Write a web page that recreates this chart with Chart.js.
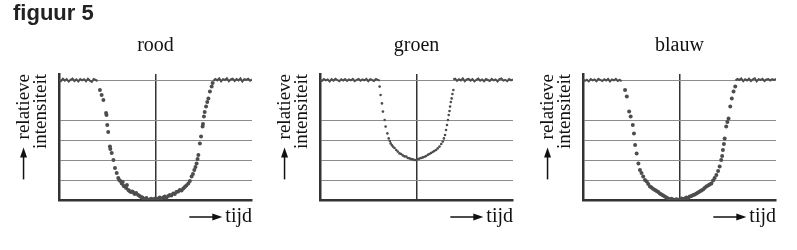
<!DOCTYPE html>
<html>
<head>
<meta charset="utf-8">
<script src="https://cdn.jsdelivr.net/npm/chart.js@4"></script>
<style>
  body { margin: 0; background: #fff; width: 797px; height: 250px; position: relative; overflow: hidden; }
  .panel { position: absolute; top: 0; width: 262px; height: 250px; }
  #heading { position: absolute; left: 13px; top: 0px; font: bold 22px "Liberation Sans", Arial, sans-serif; color: #222; z-index: 2; }
</style>
</head>
<body>
<div id="heading">figuur 5</div>
<div class="panel" style="left:0px"><canvas id="rood" width="262" height="250"></canvas></div>
<div class="panel" style="left:261px"><canvas id="groen" width="262" height="250"></canvas></div>
<div class="panel" style="left:524px"><canvas id="blauw" width="262" height="250"></canvas></div>
<script>
// titles and axis texts
var panelTitles = ['rood', 'groen', 'blauw'];
var yLabel = ['relatieve', 'intensiteit'];
var xLabel = 'tijd';
// horizontal grid positions (no labels shown)
var yGridTicks = [0, 1, 2, 3, 4, 6];
var xGridTicks = [50];

// flat (noisy) parts: first x and the measured values, one per time unit
var redFlatLeftX0 = 0;
var redFlatLeft = [6.02,5.94,6.06,5.97,6.04,5.92,6.01,6.07,5.95,6.03,5.93,6.05,5.98,6.04,5.94,6.06,5.97,5.91,6.05,6.0,5.95];
var redFlatRightX0 = 80;
var redFlatRight = [5.96,6.05,5.98,6.08,5.93,6.04,6.0,6.09,5.94,6.03,6.07,5.95,6.05,5.98,6.08,5.92,6.04,6.01,6.06,5.96,6.03];

var greenFlatLeftX0 = 0;
var greenFlatLeft = [6.01,5.95,6.05,5.98,6.03,5.93,6.04,5.97,6.06,6.0,5.94,6.04,5.97,6.05,5.95,6.03,5.98,6.06,5.94,6.01,6.05,5.96,6.03,5.98,6.06,5.94,6.04,6.0,5.95,6.05,6.01,5.97];
var greenFlatRightX0 = 69;
var greenFlatRight = [6.03,6.07,5.96,6.04,5.98,6.08,5.94,6.03,6.06,5.97,6.04,5.93,6.01,6.07,5.97,6.03,5.94,6.05,6.0,5.95,6.06,5.98,6.03,5.93,6.04,6.08,5.97,6.01,5.94,6.05,5.98,6.03];

var blueFlatLeftX0 = 0;
var blueFlatLeft = [6.04,5.96,6.01,5.93,6.05,5.98,6.03,5.94,6.06,6.0,5.95,6.04,5.97,6.05,5.93,6.03,5.98,6.06,5.95,6.01,5.94];
var blueFlatRightX0 = 79;
var blueFlatRight = [5.97,6.05,6.0,6.08,5.94,6.04,5.98,6.07,5.95,6.03,6.08,5.93,6.04,6.0,6.06,5.95,6.03,6.05,5.97,6.04,6.0,6.06];

// dip points [tijd, intensiteit]
var redDip = [[21.2,5.5],[22.1,5.25],[23.0,5.0],[24.4,4.35],[24.6,4.25],[25.0,3.75],[25.5,3.4],[26.4,2.67],[26.6,2.55],[27.3,2.35],[28.2,2.0],[29.0,1.6],[29.9,1.35],[30.7,1.1],[31.2,1.0],[31.8,0.95],[32.5,0.83],[33.0,0.9],[33.5,0.7],[34.2,0.67],[34.8,0.6],[35.2,0.75],[35.9,0.5],[36.5,0.45],[37.2,0.4],[38.0,0.42],[38.5,0.37],[39.2,0.3],[40.0,0.35],[41.0,0.25],[41.8,0.2],[42.5,0.15],[43.2,0.12],[43.7,0.08],[44.5,0.05],[45.3,0.1],[46.3,0.0],[47.0,0.02],[47.8,0.06],[48.5,0.0],[49.0,0.03],[49.8,0.08],[50.5,0.04],[51.4,0.08],[52.2,0.12],[53.0,0.06],[54.0,0.13],[54.8,0.18],[55.6,0.1],[56.6,0.2],[57.4,0.25],[58.2,0.22],[59.2,0.33],[60.0,0.3],[60.8,0.4],[61.8,0.42],[62.6,0.5],[63.5,0.48],[64.4,0.58],[65.2,0.65],[66.0,0.72],[67.0,0.83],[67.8,0.95],[68.7,1.17],[69.4,1.3],[70.1,1.5],[70.7,1.65],[71.3,1.83],[71.8,2.05],[72.2,2.25],[73.0,2.83],[73.6,3.17],[74.4,3.67],[74.6,3.8],[75.1,4.17],[75.5,4.4],[76.2,4.67],[76.8,4.9],[77.4,5.08],[78.2,5.42],[79.1,5.67],[79.6,5.85]];

var greenDip = [[30.9,5.67],[31.4,5.25],[32.1,4.83],[32.6,4.42],[33.5,4.0],[34.0,3.67],[34.9,3.33],[35.6,3.08],[36.2,2.95],[36.6,2.83],[37.2,2.75],[37.8,2.67],[38.6,2.6],[39.5,2.5],[40.3,2.42],[41.2,2.33],[42.0,2.3],[42.9,2.23],[43.8,2.18],[44.7,2.17],[45.5,2.1],[46.4,2.08],[47.2,2.05],[48.1,2.03],[49.0,2.0],[49.8,2.0],[50.6,2.04],[51.5,2.07],[52.4,2.1],[53.3,2.13],[54.2,2.16],[55.0,2.2],[55.9,2.26],[56.7,2.3],[57.5,2.35],[58.4,2.4],[59.2,2.45],[60.1,2.5],[61.0,2.58],[61.9,2.67],[62.8,2.8],[63.6,2.92],[64.2,3.08],[64.8,3.25],[65.3,3.5],[65.8,3.75],[66.3,4.0],[66.7,4.25],[67.1,4.45],[67.4,4.67],[67.8,4.9],[68.2,5.08],[68.6,5.3],[69.1,5.5]];

var blueDip = [[21.8,5.5],[22.7,5.17],[23.9,4.42],[24.7,4.17],[25.8,3.75],[26.4,3.33],[27.0,2.75],[27.8,2.33],[28.7,1.83],[29.5,1.5],[30.3,1.35],[31.2,1.17],[32.1,1.0],[33.0,0.92],[33.8,0.8],[34.7,0.67],[35.5,0.62],[36.4,0.55],[37.3,0.5],[38.1,0.45],[39.0,0.4],[39.8,0.33],[40.7,0.28],[41.5,0.22],[42.4,0.17],[43.2,0.12],[44.1,0.08],[45.0,0.03],[45.8,0.06],[46.7,0.02],[47.6,0.0],[48.4,0.04],[49.3,0.01],[50.2,0.03],[51.0,0.07],[51.9,0.04],[52.7,0.08],[53.6,0.12],[54.5,0.1],[55.3,0.17],[56.2,0.2],[57.1,0.25],[57.9,0.28],[58.8,0.33],[59.6,0.38],[60.5,0.42],[61.3,0.47],[62.2,0.52],[63.0,0.6],[63.9,0.67],[64.8,0.72],[65.6,0.78],[66.5,0.83],[67.4,0.98],[68.2,1.1],[69.1,1.25],[70.0,1.45],[70.8,1.67],[71.6,2.0],[72.1,2.2],[72.5,2.5],[73.0,2.8],[73.4,3.08],[74.2,3.67],[74.8,3.9],[75.4,4.08],[76.3,4.67],[77.1,5.08],[78.0,5.42],[78.9,5.67]];

function flatPoints(x0, vals) {
  return vals.map(function (v, i) { return { x: x0 + i, y: v }; });
}
function dipPoints(arr) {
  return arr.map(function (p) { return { x: p[0], y: p[1] }; });
}

var ink = '#4d4d4d';

// draws the two arrows next to the axis titles
var arrowPlugin = {
  id: 'arrows',
  afterDraw: function (chart) {
    var ctx = chart.ctx;
    var ys = chart.scales.y, xs = chart.scales.x;
    function head(x, y, dx, dy) {
      ctx.beginPath();
      ctx.moveTo(x, y);
      ctx.lineTo(x - dx * 10 - dy * 3.5, y - dy * 10 + dx * 3.5);
      ctx.lineTo(x - dx * 10 + dy * 3.5, y - dy * 10 - dx * 3.5);
      ctx.closePath();
      ctx.fill();
    }
    ctx.save();
    ctx.strokeStyle = '#111';
    ctx.fillStyle = '#111';
    ctx.lineWidth = 1.5;
    // y arrow
    var yt = ys.options.title;
    ctx.font = yt.font.size + 'px "Liberation Serif"';
    var lh = yt.font.size * yt.font.lineHeight;
    var ax = ys.left + lh / 2 + yt.padding.top;
    var tipY = chart.chartArea.top + ctx.measureText(yLabel[0]).width + 8;
    ctx.beginPath();
    ctx.moveTo(ax, tipY + 32);
    ctx.lineTo(ax, tipY + 5);
    ctx.stroke();
    head(ax, tipY, 0, -1);
    // x arrow
    var xt = xs.options.title;
    ctx.font = xt.font.size + 'px "Liberation Serif"';
    var xlh = xt.font.size * xt.font.lineHeight;
    var ay = xs.bottom - xlh / 2 - xt.padding.bottom;
    var tipX = chart.chartArea.right - ctx.measureText(xLabel).width - 3;
    ctx.beginPath();
    ctx.moveTo(tipX - 33, ay);
    ctx.lineTo(tipX - 5, ay);
    ctx.stroke();
    head(tipX, ay, 1, 0);
    ctx.restore();
  }
};

function makeChart(id, title, fl, fr, dip, radius) {
  new Chart(document.getElementById(id), {
    type: 'scatter',
    data: {
      datasets: [
        { type: 'line', data: fl, borderColor: ink, borderWidth: 2, pointRadius: 0, tension: 0 },
        { type: 'line', data: fr, borderColor: ink, borderWidth: 2, pointRadius: 0, tension: 0 },
        { data: dip, backgroundColor: ink, borderWidth: 0, pointRadius: radius }
      ]
    },
    options: {
      responsive: false,
      animation: false,
      devicePixelRatio: 1,
      layout: { padding: { left: 0, right: 10, top: 0, bottom: 0 } },
      plugins: {
        legend: { display: false },
        tooltip: { enabled: false },
        title: {
          display: true,
          text: title,
          fullSize: false,
          color: '#111',
          font: { family: '"Liberation Serif"', size: 20, weight: 'normal', lineHeight: 1.2 },
          padding: { top: 34, bottom: 16 }
        }
      },
      scales: {
        x: {
          type: 'linear',
          min: 0, max: 100,
          afterBuildTicks: function (s) { s.ticks = xGridTicks.map(function (v) { return { value: v }; }); },
          afterFit: function (s) { s.height = 50; },
          ticks: { display: false },
          grid: { color: '#333', lineWidth: 1.5, drawTicks: false },
          border: { color: '#333', width: 2.5 },
          title: {
            display: true, text: xLabel, align: 'end', color: '#111',
            font: { family: '"Liberation Serif"', size: 20, lineHeight: 1.2 },
            padding: { top: 0, bottom: 21 }
          }
        },
        y: {
          min: 0, max: 6.3,
          afterBuildTicks: function (s) { s.ticks = yGridTicks.map(function (v) { return { value: v }; }); },
          afterFit: function (s) { s.width = 59; },
          ticks: { display: false },
          grid: { color: '#8c8c8c', lineWidth: 1, drawTicks: false },
          border: { color: '#333', width: 2.5 },
          title: {
            display: true, text: yLabel, align: 'end', color: '#111',
            font: { family: '"Liberation Serif"', size: 19, lineHeight: 0.9 },
            padding: { top: 15, bottom: 0 }
          }
        }
      }
    },
    plugins: [arrowPlugin]
  });
}

makeChart('rood', panelTitles[0], flatPoints(redFlatLeftX0, redFlatLeft), flatPoints(redFlatRightX0, redFlatRight), dipPoints(redDip), 2);
makeChart('groen', panelTitles[1], flatPoints(greenFlatLeftX0, greenFlatLeft), flatPoints(greenFlatRightX0, greenFlatRight), dipPoints(greenDip), 1.3);
makeChart('blauw', panelTitles[2], flatPoints(blueFlatLeftX0, blueFlatLeft), flatPoints(blueFlatRightX0, blueFlatRight), dipPoints(blueDip), 2);
</script>
</body>
</html>
